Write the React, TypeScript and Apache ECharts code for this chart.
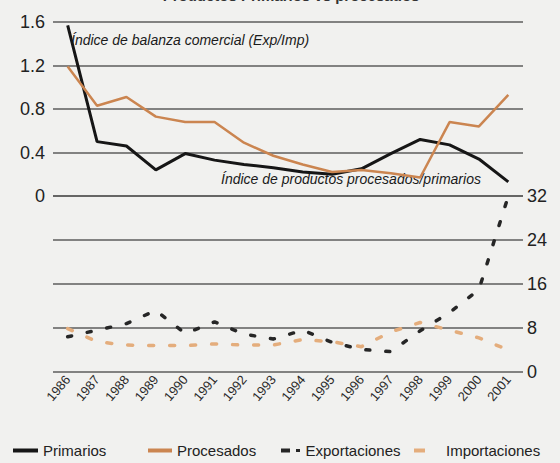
import React, { useEffect, useRef } from "react";
import * as echarts from "echarts";

const years = ["1986","1987","1988","1989","1990","1991","1992","1993","1994","1995","1996","1997","1998","1999","2000","2001"];
const primarios = [1.57, 0.50, 0.46, 0.24, 0.39, 0.33, 0.29, 0.26, 0.22, 0.20, 0.25, 0.39, 0.52, 0.47, 0.34, 0.13];
const procesados = [1.19, 0.83, 0.91, 0.73, 0.68, 0.68, 0.49, 0.37, 0.29, 0.22, 0.24, 0.21, 0.17, 0.68, 0.64, 0.93];
const exportaciones = [6.4, 7.6, 8.8, 11.2, 7.0, 9.1, 6.9, 6.0, 7.6, 5.4, 4.1, 3.7, 7.5, 10.8, 15.0, 32.0];
const importaciones = [7.9, 5.5, 4.9, 4.8, 4.8, 5.1, 4.9, 4.9, 5.9, 5.5, 4.6, 7.3, 9.0, 7.6, 6.2, 4.0];
const leftTicks = { min: 0, max: 1.6, interval: 0.4 };
const rightTicks = { min: 0, max: 32, interval: 8 };

const BLACK = "#161616";
const ORANGE = "#cb8550";
const LIGHT_ORANGE = "#e4ad7c";
const FONT = "'Liberation Sans', Arial, sans-serif";

export default function App() {
  const ref = useRef<HTMLDivElement>(null);
  useEffect(() => {
    if (!ref.current) return;
    const chart = echarts.init(ref.current, null, { renderer: "svg" });
    const legendText = { fontSize: 15, color: "#222", fontFamily: FONT };
    chart.setOption({
      animation: false,
      backgroundColor: "#f1f1ef",
      textStyle: { fontFamily: FONT },
      grid: [
        { left: 53, right: 37, top: 22, height: 174 },
        { left: 53, right: 37, top: 196, height: 176 },
      ],
      xAxis: [
        { type: "category", gridIndex: 0, data: years, show: false },
        {
          type: "category", gridIndex: 1, data: years,
          axisLine: { show: false }, axisTick: { show: false },
          axisLabel: { rotate: 50, fontSize: 13, color: "#2a2a2a", margin: 5, fontFamily: FONT, interval: 0 },
        },
      ],
      yAxis: [
        {
          type: "value", gridIndex: 0, position: "left", ...leftTicks,
          axisLine: { show: false }, axisTick: { show: false },
          axisLabel: { fontSize: 18, color: "#222", margin: 8, fontFamily: FONT },
          splitLine: { lineStyle: { color: "#5c5c5c", width: 1.5 } },
        },
        {
          type: "value", gridIndex: 1, position: "right", ...rightTicks,
          axisLine: { show: false }, axisTick: { show: false },
          axisLabel: { fontSize: 18, color: "#222", margin: 4, fontFamily: FONT },
          splitLine: { lineStyle: { color: "#5c5c5c", width: 1.5 } },
        },
      ],
      legend: [
        { data: ["Primarios"], left: 8, top: 438, icon: "rect", itemWidth: 25, itemHeight: 4, textStyle: legendText },
        { data: ["Procesados"], left: 143, top: 438, icon: "rect", itemWidth: 24, itemHeight: 4, textStyle: legendText },
        { data: ["Exportaciones"], left: 276, top: 438, icon: "path://M0,0L9,0L9,4L0,4Z M15,0.5L19,0.5L19,3.5L15,3.5Z", itemWidth: 20, itemHeight: 4, textStyle: legendText },
        { data: ["Importaciones"], left: 409, top: 438, icon: "rect", itemWidth: 11, itemHeight: 4, textStyle: { ...legendText, padding: [0, 0, 0, 16] } },
      ],
      graphic: [
        { type: "text", x: 291, y: 3, style: { text: "Productos Primarios vs procesados", fontSize: 15, fontWeight: "bold", fill: "#333", align: "center", verticalAlign: "bottom", fontFamily: FONT } },
        { type: "text", x: 71, y: 40, style: { text: "Índice de balanza comercial (Exp/Imp)", fontSize: 14, fontStyle: "italic", fill: "#1a1a1a", verticalAlign: "middle", fontFamily: FONT } },
        { type: "text", x: 221, y: 179, style: { text: "Índice de productos procesados/primarios", fontSize: 14, fontStyle: "italic", fill: "#1a1a1a", verticalAlign: "middle", fontFamily: FONT } },
      ],
      series: [
        { name: "Primarios", type: "line", xAxisIndex: 0, yAxisIndex: 0, data: primarios, symbol: "none", lineStyle: { color: BLACK, width: 3 }, itemStyle: { color: BLACK } },
        { name: "Procesados", type: "line", xAxisIndex: 0, yAxisIndex: 0, data: procesados, symbol: "none", lineStyle: { color: ORANGE, width: 2.5 }, itemStyle: { color: ORANGE } },
        { name: "Exportaciones", type: "line", xAxisIndex: 1, yAxisIndex: 1, data: exportaciones, symbol: "none", lineStyle: { color: "#262626", width: 3.5, type: [4, 16], cap: "round" }, itemStyle: { color: "#262626" } },
        { name: "Importaciones", type: "line", xAxisIndex: 1, yAxisIndex: 1, data: importaciones, symbol: "none", lineStyle: { color: LIGHT_ORANGE, width: 3.5, type: [5, 16], cap: "round" }, itemStyle: { color: LIGHT_ORANGE } },
      ],
    });
    return () => chart.dispose();
  }, []);
  return <div ref={ref} style={{ position: "fixed", left: 0, top: 0, width: 560, height: 463 }} />;
}
